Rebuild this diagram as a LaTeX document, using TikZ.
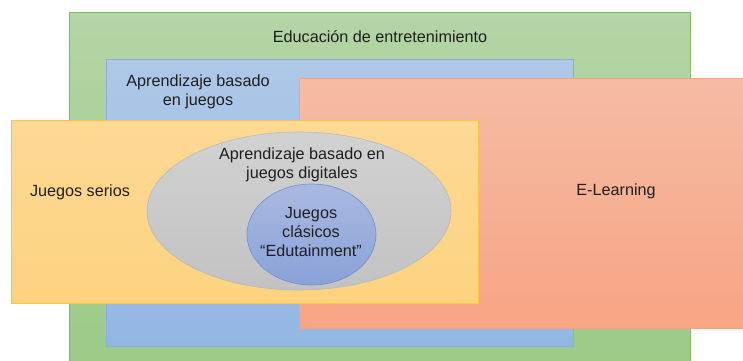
\documentclass[tikz,border=0pt]{standalone}
\usepackage{fontspec}
\setmainfont{Liberation Sans}
\definecolor{verdeA}{HTML}{B4D5A6}
\definecolor{verdeB}{HTML}{9CCA86}
\definecolor{verdeL}{HTML}{82B866}
\definecolor{azulA}{HTML}{AFC8E8}
\definecolor{azulB}{HTML}{93B7E2}
\definecolor{azulL}{HTML}{8AAEDC}
\definecolor{naranjaA}{HTML}{F5BCA4}
\definecolor{naranjaB}{HTML}{F7A483}
\definecolor{naranjaL}{HTML}{F4A27F}
\definecolor{amarilloA}{HTML}{FED995}
\definecolor{amarilloB}{HTML}{FDD37F}
\definecolor{amarilloL}{HTML}{F8C545}
\definecolor{grisA}{HTML}{D2D2D2}
\definecolor{grisB}{HTML}{C2C2C2}
\definecolor{grisL}{HTML}{B8B8B8}
\definecolor{violetaA}{HTML}{A9BAE2}
\definecolor{violetaB}{HTML}{8AA2D9}
\definecolor{violetaL}{HTML}{6F8FD0}
\usetikzlibrary{shapes.geometric}

\begin{document}
\begin{tikzpicture}[x=1pt, y=-1pt,
    etiqueta/.style={font=\fontsize{16.2}{19}\selectfont, align=center, text=black!88, inner sep=0pt}]
    \clip (0,0) rectangle (743,360);
    \useasboundingbox (0,0) rectangle (743,360);

    % Cajas
    \shade[top color=verdeA, bottom color=verdeB] (69,12) rectangle (690,370);
    \draw[verdeL, line width=0.8pt] (69,12) rectangle (690,370);

    \shade[top color=azulA, bottom color=azulB] (106,59) rectangle (573,346);
    \draw[azulL, line width=0.8pt] (106,59) rectangle (573,346);

    \shade[top color=naranjaA, bottom color=naranjaB] (299,78) rectangle (750,328);
    \draw[naranjaL, line width=0.8pt] (299,78) rectangle (750,328);

    \shade[top color=amarilloA, bottom color=amarilloB] (11,120) rectangle (478,303);
    \draw[amarilloL, line width=0.8pt] (11,120) rectangle (478,303);

    % Elipses
    \shade[top color=grisA, bottom color=grisB] (299,211) ellipse [x radius=152, y radius=79];
    \draw[grisL, line width=0.6pt] (299,211) ellipse [x radius=152, y radius=79];

    \shade[top color=violetaA, bottom color=violetaB] (311.5,234.5) ellipse [x radius=64.5, y radius=50.5];
    \draw[violetaL, line width=0.6pt] (311.5,234.5) ellipse [x radius=64.5, y radius=50.5];

    % Textos
    \node[etiqueta] (edu) at (380,37) {Educación de entretenimiento};
    \node[etiqueta] (abj) at (198,92) {Aprendizaje basado\\en juegos};
    \node[etiqueta] (serios) at (80,192) {Juegos serios};
    \node[etiqueta] (elearn) at (616,191) {E-Learning};
    \node[etiqueta] (abjd) at (302,165) {Aprendizaje basado en\\juegos digitales};
    \node[etiqueta] (clasicos) at (311,232) {Juegos\\clásicos\\“Edutainment”};
\end{tikzpicture}
\end{document}
